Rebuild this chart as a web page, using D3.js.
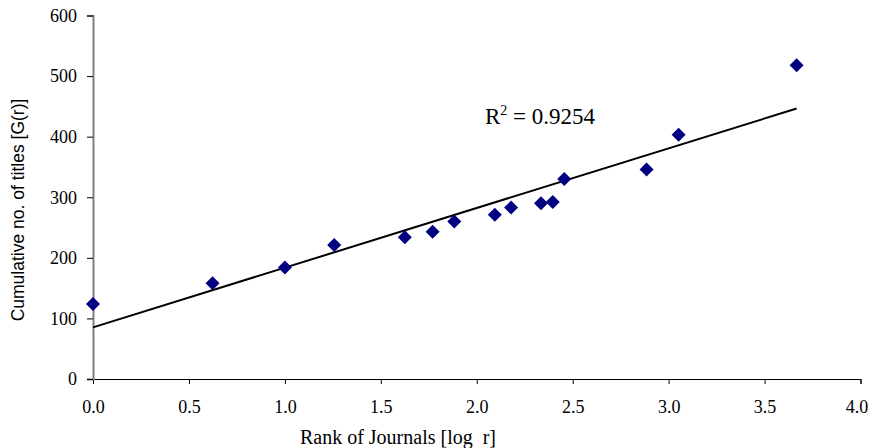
<!DOCTYPE html>
<html>
<head>
<meta charset="utf-8">
<script src="https://cdn.jsdelivr.net/npm/d3@7"></script>
<style>
  body { margin: 0; background: #fff; }
</style>
</head>
<body>
<div id="chart"></div>
<script>
// log rank of journal, cumulative no. of titles
const logRank = [0, 0.623, 1.0, 1.257, 1.625, 1.77, 1.883, 2.094, 2.179, 2.335, 2.396, 2.456, 2.885, 3.052, 3.667];
const titles = [124, 158, 184, 221, 234, 243, 260, 271, 283, 290, 292, 330, 346, 403, 518];
const xTicks = [0, 0.5, 1.0, 1.5, 2.0, 2.5, 3.0, 3.5, 4.0];
const yTicks = [0, 100, 200, 300, 400, 500, 600];
const r2Label = "0.9254";

const width = 869;
const height = 448;
const margin = { top: 15.5, right: 8.5, bottom: 69, left: 93 };
const serif = "'Liberation Serif', 'Times New Roman', serif";

const points = logRank.map((x, i) => ({ x: x, y: titles[i] }));

const svg = d3.select("#chart")
  .append("svg")
  .attr("width", width)
  .attr("height", height);

const x = d3.scaleLinear()
  .domain([0, 4])
  .range([margin.left, width - margin.right]);

const y = d3.scaleLinear()
  .domain([0, 600])
  .range([height - margin.bottom, margin.top]);

// least squares trend line
const mx = d3.mean(points, d => d.x);
const my = d3.mean(points, d => d.y);
const slope = d3.sum(points, d => (d.x - mx) * (d.y - my)) / d3.sum(points, d => (d.x - mx) ** 2);
const intercept = my - slope * mx;
const xMax = d3.max(logRank);

// x axis
svg.append("g")
  .attr("transform", `translate(0,${y(0)})`)
  .attr("font-family", serif)
  .call(d3.axisBottom(x).tickValues(xTicks).tickFormat(d3.format(".1f")).tickSize(5).tickPadding(16))
  .call(g => g.select(".domain").attr("stroke", "#000"))
  .call(g => g.selectAll("text")
    .style("font-family", serif)
    .attr("font-size", "18px")
    .attr("fill", "#000"))
  .call(g => g.selectAll(".tick:last-of-type text").attr("dx", -4));

// y axis
svg.append("g")
  .attr("transform", `translate(${x(0)},0)`)
  .attr("font-family", serif)
  .call(d3.axisLeft(y).tickValues(yTicks).tickSize(6).tickPadding(10))
  .call(g => g.select(".domain").attr("stroke", "#808080").attr("stroke-width", 2))
  .call(g => g.selectAll("text")
    .style("font-family", serif)
    .attr("font-size", "18px")
    .attr("fill", "#000"));

// trend line
svg.append("line")
  .attr("x1", x(0))
  .attr("y1", y(intercept))
  .attr("x2", x(xMax))
  .attr("y2", y(intercept + slope * xMax))
  .attr("stroke", "#000")
  .attr("stroke-width", 2);

// points
svg.append("g")
  .selectAll("path")
  .data(points)
  .enter()
  .append("path")
  .attr("d", d3.symbol(d3.symbolSquare, 98))
  .attr("transform", d => `translate(${x(d.x)},${y(d.y)}) rotate(45)`)
  .attr("fill", "#000080");

// R squared label
const r2 = svg.append("text")
  .attr("x", 485)
  .attr("y", 124)
  .style("font-family", serif)
  .attr("font-size", "23px")
  .attr("fill", "#000");
r2.append("tspan").text("R");
r2.append("tspan").attr("dy", -9).attr("font-size", "14px").text("2");
r2.append("tspan").attr("dy", 9).text(" = " + r2Label);

// axis titles
svg.append("text")
  .attr("x", 398)
  .attr("y", 444)
  .attr("text-anchor", "middle")
  .style("font-family", serif)
  .attr("font-size", "20px")
  .attr("fill", "#000")
  .style("white-space", "pre")
  .text("Rank of Journals [log  r]");

svg.append("text")
  .attr("transform", "translate(24,210) rotate(-90)")
  .attr("text-anchor", "middle")
  .style("font-family", "'Liberation Sans', Arial, sans-serif")
  .attr("font-size", "17.5px")
  .attr("fill", "#000")
  .text("Cumulative no. of titles [G(r)]");
</script>
</body>
</html>
